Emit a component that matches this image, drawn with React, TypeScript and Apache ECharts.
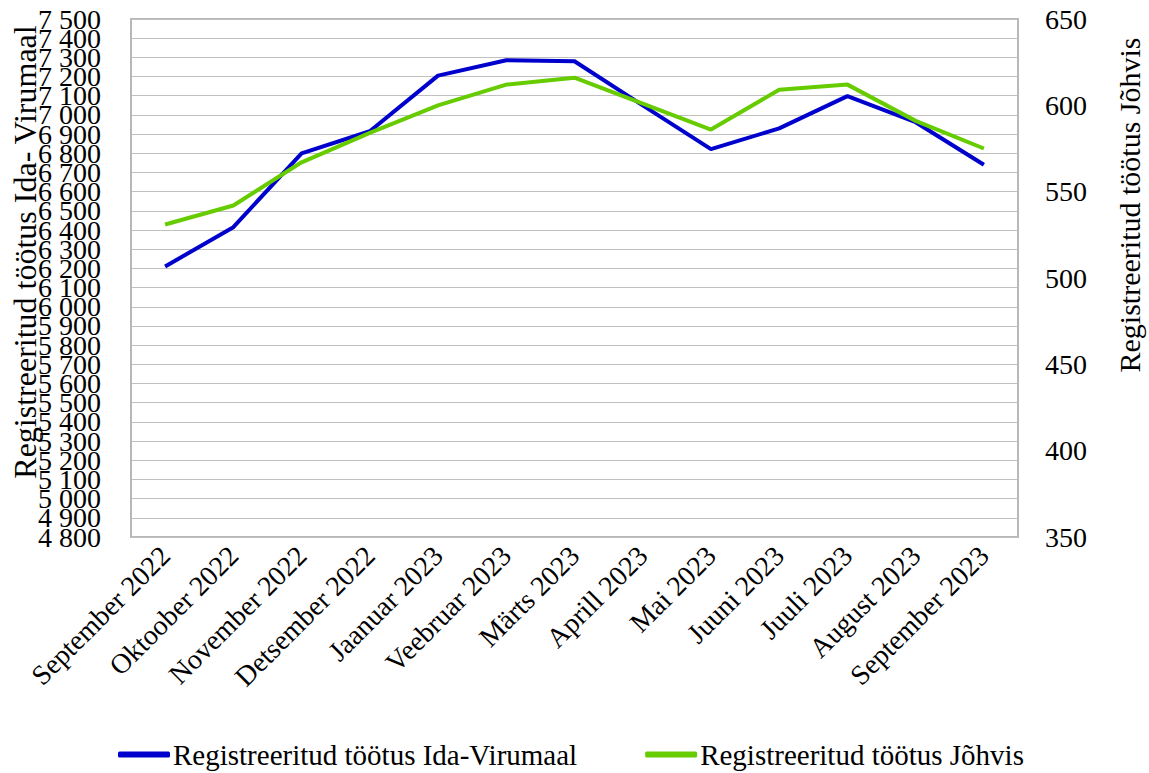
import React, { useEffect, useRef } from "react";
import * as echarts from "echarts";

const categories = [
  "September 2022", "Oktoober 2022", "November 2022", "Detsember 2022",
  "Jaanuar 2023", "Veebruar 2023", "Märts 2023", "Aprill 2023",
  "Mai 2023", "Juuni 2023", "Juuli 2023", "August 2023", "September 2023",
];
const idaVirumaa = [6210, 6415, 6800, 6915, 7205, 7285, 7280, 7050, 6822, 6930, 7098, 6962, 6740];
const johvi = [531, 542, 567, 584, 600, 612, 616, 601, 586, 609, 612, 591, 575];
const seriesNames = ["Registreeritud töötus Ida-Virumaal", "Registreeritud töötus Jõhvis"];
const leftTitle = "Registreeritud töötus Ida- Virumaal";
const rightTitle = "Registreeritud töötus Jõhvis";

const FONT = "Liberation Serif";

export default function App() {
  const ref = useRef<HTMLDivElement>(null);
  useEffect(() => {
    if (!ref.current) return;
    const chart = echarts.init(ref.current, null, { renderer: "svg" });
    const fmt = (v: number) => {
      const th = Math.floor(v / 1000);
      const rest = String(v % 1000).padStart(3, "0");
      return th + " " + rest;
    };
    const leftAxis = (even: boolean, showGrid: boolean) => ({
      type: "value",
      position: "left",
      offset: 0,
      min: 4800,
      max: 7500,
      interval: 100,
      axisLine: { show: false },
      axisTick: { show: false },
      splitLine: { show: showGrid, lineStyle: { color: "#C0C0C0", width: 1 } },
      axisLabel: {
        fontSize: 28, fontFamily: FONT, color: "#000", margin: 30,
        formatter: (v: number) => ((Math.round(v / 100) % 2 === 0) === even ? fmt(v) : ""),
      },
    });
    chart.setOption({
      animation: false,
      textStyle: { fontFamily: FONT, color: "#000" },
      grid: { left: 131, right: 131, top: 19, bottom: 236, show: true, borderColor: "#B8B8B8", borderWidth: 2 },
      legend: {
        left: 113,
        top: 735,
        itemWidth: 52,
        itemHeight: 6,
        itemGap: 68,
        icon: "roundRect",
        textStyle: { fontFamily: FONT, fontSize: 29, color: "#000", padding: [0, 0, 0, -2] },
        data: seriesNames,
      },
      xAxis: {
        type: "category",
        data: categories,
        boundaryGap: true,
        axisLine: { show: false },
        axisTick: { show: false },
        axisLabel: { rotate: 45, fontSize: 28, fontFamily: FONT, color: "#000", margin: 14, interval: 0 },
      },
      yAxis: [
        leftAxis(true, true),
        leftAxis(false, false),
        {
          type: "value",
          min: 350,
          max: 650,
          interval: 50,
          position: "right",
          axisLine: { show: false },
          axisTick: { show: false },
          splitLine: { show: false },
          axisLabel: { fontSize: 28, fontFamily: FONT, color: "#000", margin: 27, showMinLabel: true, showMaxLabel: true },
        },
      ],
      series: [
        {
          name: seriesNames[0],
          type: "line",
          yAxisIndex: 0,
          data: idaVirumaa,
          symbol: "none",
          lineStyle: { color: "#0000CC", width: 4 },
          itemStyle: { color: "#0000CC" },
        },
        {
          name: seriesNames[1],
          type: "line",
          yAxisIndex: 2,
          data: johvi,
          symbol: "none",
          lineStyle: { color: "#66CC00", width: 4 },
          itemStyle: { color: "#66CC00" },
        },
      ],
      graphic: [
        {
          type: "text",
          x: 25,
          y: 252,
          rotation: Math.PI / 2,
          style: { text: leftTitle, fontSize: 32, fontFamily: FONT, fill: "#000", align: "center", verticalAlign: "middle" },
        },
        {
          type: "text",
          x: 1129,
          y: 205,
          rotation: Math.PI / 2,
          style: { text: rightTitle, fontSize: 30, fontFamily: FONT, fill: "#000", align: "center", verticalAlign: "middle" },
        },
      ],
    });
    return () => chart.dispose();
  }, []);
  return (
    <div style={{ position: "absolute", left: 0, top: 0, width: 1149, height: 773, background: "#fff" }}>
      <div ref={ref} style={{ width: 1149, height: 773 }} />
    </div>
  );
}
